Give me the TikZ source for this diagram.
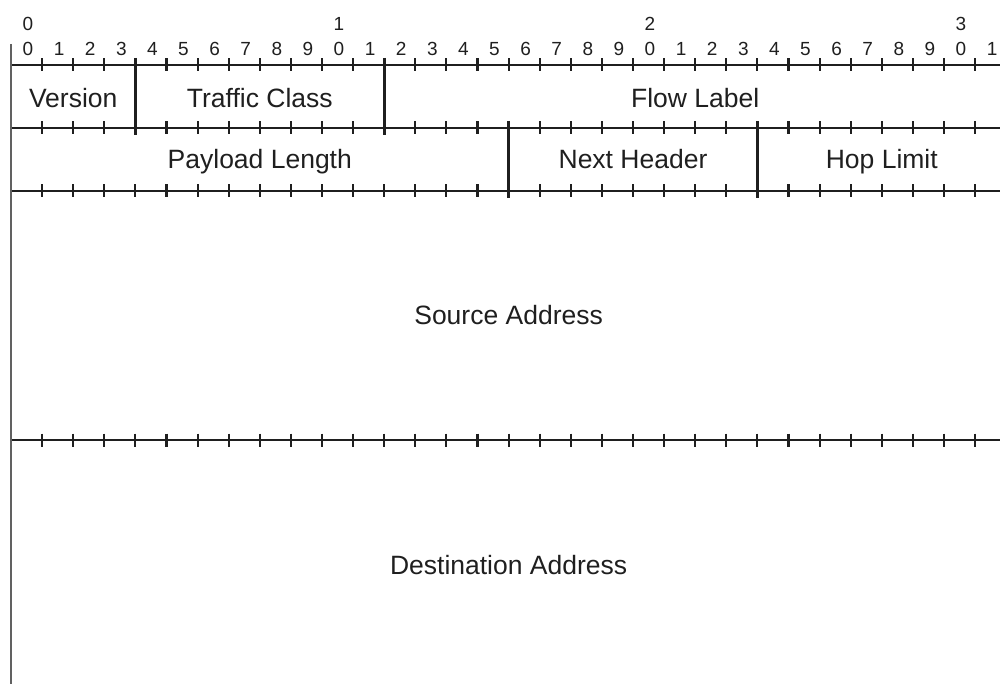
\documentclass[tikz,border=0pt]{standalone}
\usepackage{fontspec}
\setmainfont{Liberation Sans}
\begin{document}
\begin{tikzpicture}[x=1pt,y=-1pt,
  rule/.style={line width=2.6pt, draw=black!88},
  bittick/.style={line width=2.1pt, draw=black!88},
  edge/.style={line width=2.8pt, draw=black!62},
  field/.style={font=\fontsize{26.5}{30}\selectfont, text=black!88, inner sep=0pt, anchor=base},
  bitnum/.style={font=\fontsize{19}{21}\selectfont, text=black!88, inner sep=0pt}]
\useasboundingbox (0,0) rectangle (1000,684);
\def\W{31.1}
\def\X{11}
% horizontal rules with bit ticks
\foreach \y in {65,128,191,440} {
  \draw[rule] (\X,\y) -- (1000,\y);
  \foreach \i in {1,...,31} \draw[bittick] ({\X+\i*\W},{\y-6.5}) -- ({\X+\i*\W},{\y+6.5});
}
% left edge
\draw[edge] (\X,44) -- (\X,684);
% field dividers
\draw[rule] ({\X+4*\W},58) -- ({\X+4*\W},135);
\draw[rule] ({\X+12*\W},58) -- ({\X+12*\W},135);
\draw[rule] ({\X+16*\W},121) -- ({\X+16*\W},198);
\draw[rule] ({\X+24*\W},121) -- ({\X+24*\W},198);
% bit numbers
\node[bitnum] (t0) at ({\X+17},23.5) {0};
\node[bitnum] (t1) at ({\X+17+10*\W},23.5) {1};
\node[bitnum] (t2) at ({\X+17+20*\W},23.5) {2};
\node[bitnum] (t3) at ({\X+17+30*\W},23.5) {3};
\foreach \i in {0,...,31} {
  \pgfmathtruncatemacro\d{mod(\i,10)}
  \node[bitnum] (b\i) at ({\X+17+\i*\W},49) {\d};
}
% field labels
\node[field] (ver) at ({\X+2*\W},107.5) {Version};
\node[field] (tc) at ({\X+8*\W},107.5) {Traffic Class};
\node[field] (fl) at ({\X+22*\W},107.5) {Flow Label};
\node[field] (pl) at ({\X+8*\W},168.5) {Payload Length};
\node[field] (nh) at ({\X+20*\W},168.5) {Next Header};
\node[field] (hl) at ({\X+28*\W},168.5) {Hop Limit};
\node[field] (src) at ({\X+16*\W},324.5) {Source Address};
\node[field] (dst) at ({\X+16*\W},574.5) {Destination Address};
\end{tikzpicture}
\end{document}
